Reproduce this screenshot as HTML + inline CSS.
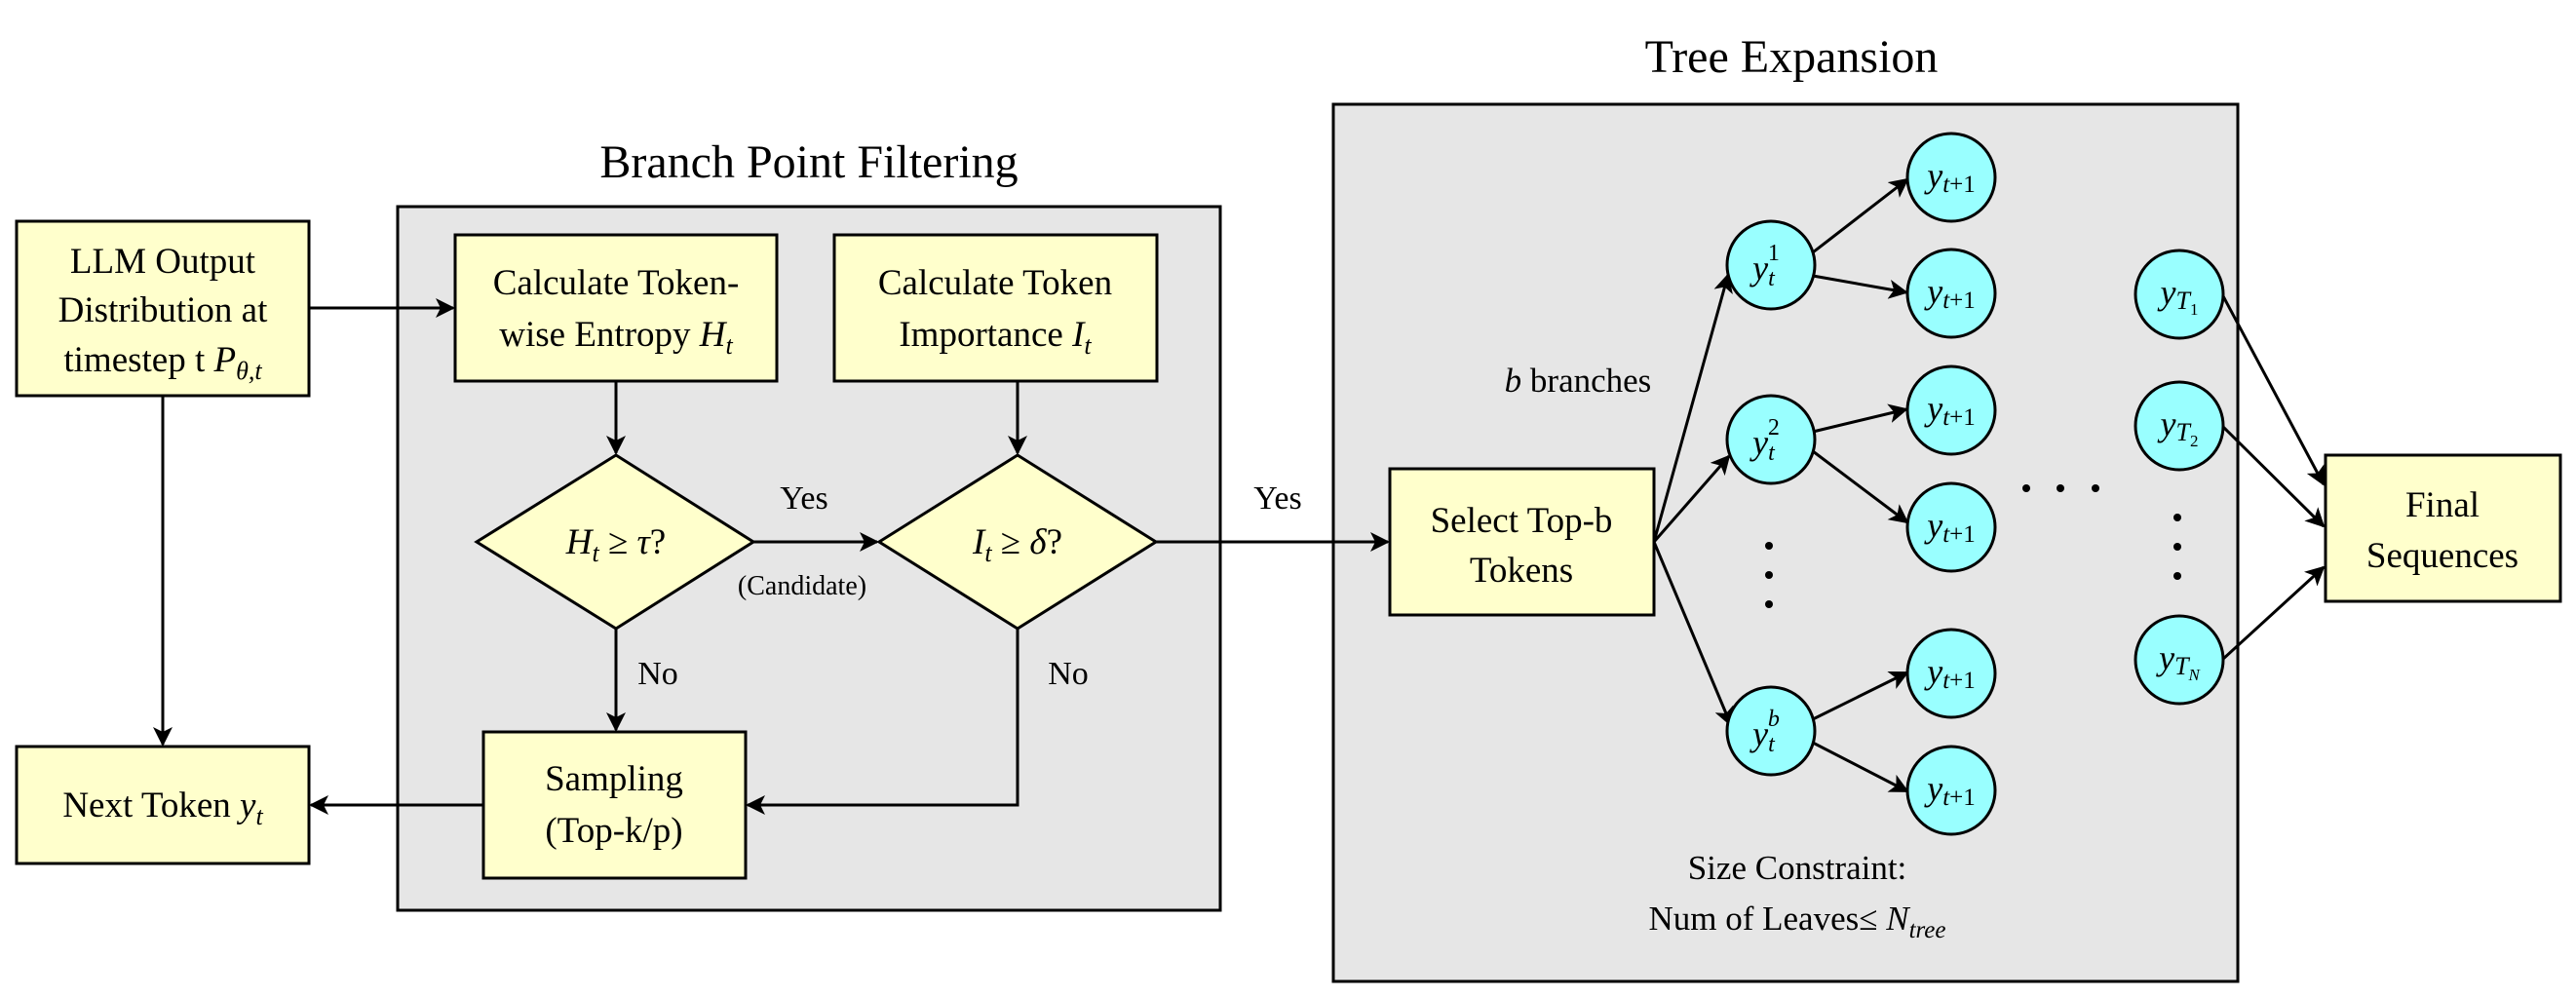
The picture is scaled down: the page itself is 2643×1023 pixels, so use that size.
<!DOCTYPE html>
<html><head><meta charset="utf-8"><style>
html,body{margin:0;padding:0;background:#fff;}
svg{display:block;}
text{font-family:"Liberation Serif",serif;fill:#000;}
.t{font-size:37px;text-anchor:middle;}
.m{font-style:italic;}
</style></head><body>
<svg width="2643" height="1023" viewBox="0 0 2643 1023" xmlns="http://www.w3.org/2000/svg">
<defs>
<marker id="a" viewBox="0 0 20 20" refX="18" refY="10" markerWidth="20" markerHeight="20" markerUnits="userSpaceOnUse" orient="auto">
<path d="M0,0 L20,10 L0,20 L5,10 Z" fill="#000"/>
</marker>
</defs>
<g stroke="#000" stroke-width="3">
<rect x="408" y="212" width="844" height="722" fill="#e6e6e6"/>
<rect x="1368" y="107" width="928" height="900" fill="#e6e6e6"/>
</g>
<text x="830" y="182" style="font-size:48px" text-anchor="middle">Branch Point Filtering</text>
<text x="1838" y="74" style="font-size:48px" text-anchor="middle">Tree Expansion</text>
<g stroke="#000" stroke-width="3" fill="#ffffcc">
<rect x="17" y="227" width="300" height="179"/>
<rect x="17" y="766" width="300" height="120"/>
<rect x="467" y="241" width="330" height="150"/>
<rect x="856" y="241" width="331" height="150"/>
<rect x="496" y="751" width="269" height="150"/>
<polygon points="489,556 632,467 773,556 632,645"/>
<polygon points="902,556 1044,467 1186,556 1044,645"/>
<rect x="1426" y="481" width="271" height="150"/>
<rect x="2386" y="467" width="241" height="150"/>
</g>
<g stroke="#000" stroke-width="3" fill="none" marker-end="url(#a)">
<line x1="317" y1="316" x2="465" y2="316"/>
<line x1="167" y1="406" x2="167" y2="764"/>
<line x1="632" y1="391" x2="632" y2="465"/>
<line x1="1044" y1="391" x2="1044" y2="465"/>
<line x1="773" y1="556" x2="900" y2="556"/>
<line x1="632" y1="645" x2="632" y2="749"/>
<polyline points="1044,645 1044,826 767,826"/>
<line x1="496" y1="826" x2="319" y2="826"/>
<line x1="1186" y1="556" x2="1424" y2="556"/>
<line x1="1697" y1="556" x2="1773" y2="282"/>
<line x1="1697" y1="556" x2="1774" y2="468"/>
<line x1="1697" y1="556" x2="1776" y2="744"/>
<line x1="1860" y1="259" x2="1957" y2="184"/>
<line x1="1860" y1="283" x2="1956" y2="300"/>
<line x1="1860" y1="443" x2="1956" y2="420"/>
<line x1="1860" y1="463" x2="1957" y2="536"/>
<line x1="1860" y1="738" x2="1957" y2="690"/>
<line x1="1860" y1="762" x2="1957" y2="812"/>
<line x1="2280" y1="302" x2="2384" y2="497"/>
<line x1="2280" y1="437" x2="2384" y2="540"/>
<line x1="2280" y1="677" x2="2384" y2="582"/>
</g>
<g stroke="#000" stroke-width="3" fill="#99ffff">
<circle cx="1817" cy="272" r="45"/>
<circle cx="1817" cy="451" r="45"/>
<circle cx="1817" cy="750" r="45"/>
<circle cx="2002" cy="182" r="45"/>
<circle cx="2002" cy="301" r="45"/>
<circle cx="2002" cy="421" r="45"/>
<circle cx="2002" cy="541" r="45"/>
<circle cx="2002" cy="691" r="45"/>
<circle cx="2002" cy="811" r="45"/>
<circle cx="2236" cy="302" r="45"/>
<circle cx="2236" cy="437" r="45"/>
<circle cx="2236" cy="677" r="45"/>
</g>
<g fill="#000">
<circle cx="1815" cy="560" r="4"/><circle cx="1815" cy="590" r="4"/><circle cx="1815" cy="620" r="4"/>
<circle cx="2079" cy="501" r="4"/><circle cx="2114" cy="501" r="4"/><circle cx="2150" cy="501" r="4"/>
<circle cx="2234" cy="531" r="4"/><circle cx="2234" cy="561" r="4"/><circle cx="2234" cy="591" r="4"/>
</g>
<text class="t" x="167" y="280">LLM Output</text>
<text class="t" x="167" y="330">Distribution at</text>
<text class="t" x="167" y="381">timestep t <tspan class="m">P</tspan><tspan class="m" style="font-size:26px" dy="8">θ,t</tspan></text>
<text class="t" x="167" y="838">Next Token <tspan class="m">y</tspan><tspan class="m" style="font-size:26px" dy="8">t</tspan></text>
<text class="t" x="632" y="302">Calculate Token-</text>
<text class="t" x="632" y="355">wise Entropy <tspan class="m">H</tspan><tspan class="m" style="font-size:26px" dy="8">t</tspan></text>
<text class="t" x="1021" y="302">Calculate Token</text>
<text class="t" x="1021" y="355">Importance <tspan class="m">I</tspan><tspan class="m" style="font-size:26px" dy="8">t</tspan></text>
<text class="t" x="630" y="811">Sampling</text>
<text class="t" x="630" y="864">(Top-k/p)</text>
<text class="t" x="632" y="568"><tspan class="m">H</tspan><tspan class="m" style="font-size:26px" dy="8">t</tspan><tspan dy="-8"> ≥ </tspan><tspan class="m">τ</tspan>?</text>
<text class="t" x="1044" y="568"><tspan class="m">I</tspan><tspan class="m" style="font-size:26px" dy="8">t</tspan><tspan dy="-8"> ≥ </tspan><tspan class="m">δ</tspan>?</text>
<text class="t" x="825" y="522" style="font-size:34px">Yes</text>
<text class="t" x="823" y="610" style="font-size:28px">(Candidate)</text>
<text class="t" x="675" y="702" style="font-size:34px">No</text>
<text class="t" x="1096" y="702" style="font-size:34px">No</text>
<text class="t" x="1311" y="522" style="font-size:34px">Yes</text>
<text class="t" x="1561" y="546">Select Top-b</text>
<text class="t" x="1561" y="597">Tokens</text>
<text class="t" x="1619" y="402" style="font-size:35px"><tspan class="m">b</tspan> branches</text>
<text class="t" x="2506" y="530">Final</text>
<text class="t" x="2506" y="582">Sequences</text>
<text class="t" x="1844" y="902" style="font-size:35px">Size Constraint:</text>
<text class="t" x="1844" y="954" style="font-size:35px">Num of Leaves≤ <tspan class="m">N</tspan><tspan class="m" style="font-size:25px" dy="8">tree</tspan></text>
<g class="t" style="font-size:34px">
<text class="t m" x="1812" y="287" style="font-size:36px">y<tspan style="font-size:24px" dy="6">t</tspan><tspan style="font-size:24px;font-style:normal" dx="-7" dy="-26">1</tspan></text>
<text class="t m" x="1812" y="466" style="font-size:36px">y<tspan style="font-size:24px" dy="6">t</tspan><tspan style="font-size:24px;font-style:normal" dx="-7" dy="-26">2</tspan></text>
<text class="t m" x="1812" y="765" style="font-size:36px">y<tspan style="font-size:24px" dy="6">t</tspan><tspan style="font-size:24px" dx="-7" dy="-26">b</tspan></text>
<text class="t m" x="2002" y="192" style="font-size:36px">y<tspan style="font-size:25px" dy="5">t<tspan style="font-style:normal">+1</tspan></tspan></text>
<text class="t m" x="2002" y="311" style="font-size:36px">y<tspan style="font-size:25px" dy="5">t<tspan style="font-style:normal">+1</tspan></tspan></text>
<text class="t m" x="2002" y="431" style="font-size:36px">y<tspan style="font-size:25px" dy="5">t<tspan style="font-style:normal">+1</tspan></tspan></text>
<text class="t m" x="2002" y="551" style="font-size:36px">y<tspan style="font-size:25px" dy="5">t<tspan style="font-style:normal">+1</tspan></tspan></text>
<text class="t m" x="2002" y="701" style="font-size:36px">y<tspan style="font-size:25px" dy="5">t<tspan style="font-style:normal">+1</tspan></tspan></text>
<text class="t m" x="2002" y="821" style="font-size:36px">y<tspan style="font-size:25px" dy="5">t<tspan style="font-style:normal">+1</tspan></tspan></text>
<text class="t m" x="2236" y="312" style="font-size:36px">y<tspan style="font-size:26px" dy="5">T</tspan><tspan style="font-size:17px;font-style:normal" dy="6">1</tspan></text>
<text class="t m" x="2236" y="447" style="font-size:36px">y<tspan style="font-size:26px" dy="5">T</tspan><tspan style="font-size:17px;font-style:normal" dy="6">2</tspan></text>
<text class="t m" x="2236" y="687" style="font-size:36px">y<tspan style="font-size:26px" dy="5">T</tspan><tspan style="font-size:17px" dy="6">N</tspan></text>
</g>
</svg>
</body></html>
